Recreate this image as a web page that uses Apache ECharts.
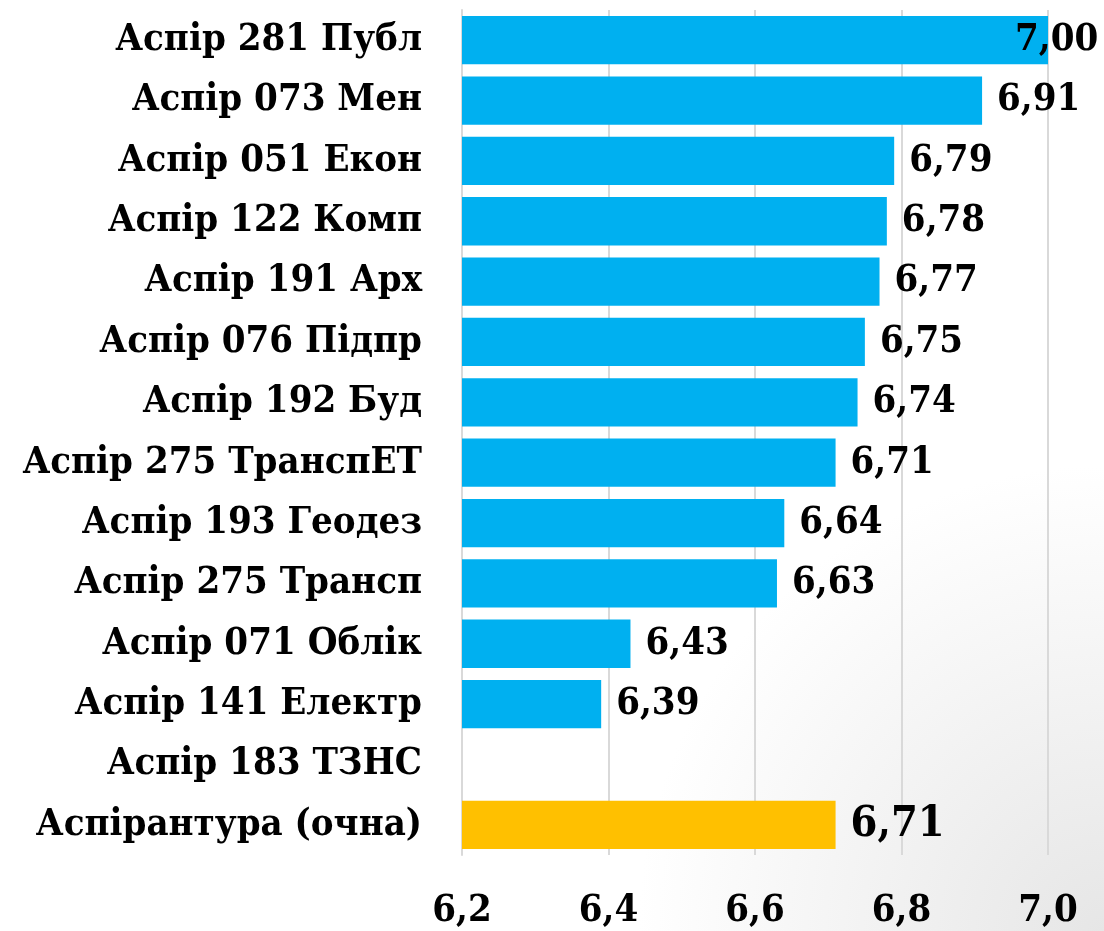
<!DOCTYPE html>
<html>
<head>
<meta charset="utf-8">
<script src="https://cdn.jsdelivr.net/npm/echarts@6/dist/echarts.min.js"></script>
<style>
  html, body { margin: 0; padding: 0; }
  #chart { width: 1104px; height: 931px; }
</style>
</head>
<body>
<div id="chart"></div>
<script>
const categories = [
  'Аспір 281 Публ', 'Аспір 073 Мен', 'Аспір 051 Екон', 'Аспір 122 Комп',
  'Аспір 191 Арх', 'Аспір 076 Підпр', 'Аспір 192 Буд', 'Аспір 275 ТранспЕТ',
  'Аспір 193 Геодез', 'Аспір 275 Трансп', 'Аспір 071 Облік', 'Аспір 141 Електр',
  'Аспір 183 ТЗНС', 'Аспірантура (очна)'
];
const values = [7.00, 6.91, 6.79, 6.78, 6.77, 6.75, 6.74, 6.71, 6.64, 6.63, 6.43, 6.39, null, 6.71];
const totalCategory = 'Аспірантура (очна)';
const xTicks = [6.2, 6.4, 6.6, 6.8, 7.0];

const FONT = '"DejaVu Serif Condensed", "DejaVu Serif", serif';
const comma = v => v.toFixed(2).replace('.', ',');

// дані серії: підсумковий рядок жовтий, значення на межі осі зсуваємо всередину
const seriesData = values.map((v, i) => {
  const item = { value: v };
  if (categories[i] === totalCategory) {
    item.itemStyle = { color: '#FFC000' };
    item.label = { fontSize: 43 };
  }
  if (v !== null && v >= xTicks[xTicks.length - 1]) {
    item.label = { offset: [-48, 0] };
  }
  return item;
});

const chart = echarts.init(document.getElementById('chart'));
chart.setOption({
  backgroundColor: {
    type: 'radial', x: 1, y: 1, r: 0.5,
    colorStops: [
      { offset: 0, color: '#e6e6e6' },
      { offset: 1, color: '#ffffff' }
    ]
  },
  animation: false,
  grid: { left: 462, right: 56, top: 10, bottom: 76 },
  xAxis: {
    type: 'value',
    min: xTicks[0],
    max: xTicks[xTicks.length - 1],
    interval: 0.2,
    axisLine: { show: false },
    axisTick: { show: false },
    splitLine: { lineStyle: { color: '#d9d9d9', width: 2 } },
    axisLabel: {
      margin: 37,
      fontFamily: FONT,
      fontWeight: 'bold',
      fontSize: 38,
      color: '#000',
      formatter: v => v.toFixed(1).replace('.', ',')
    }
  },
  yAxis: {
    type: 'category',
    inverse: true,
    data: categories,
    axisLine: { lineStyle: { color: '#d9d9d9', width: 2 } },
    axisTick: { length: 7, lineStyle: { color: '#d9d9d9', width: 2 } },
    axisLabel: {
      margin: 40,
      fontFamily: FONT,
      fontWeight: 'bold',
      fontSize: 38,
      color: '#000'
    }
  },
  series: [{
    type: 'bar',
    data: seriesData,
    barCategoryGap: '20%',
    itemStyle: { color: '#00B0F0' },
    label: {
      show: true,
      position: 'right',
      distance: 15,
      fontFamily: FONT,
      fontWeight: 'bold',
      fontSize: 38,
      color: '#000',
      formatter: p => comma(p.value)
    }
  }]
});
</script>
</body>
</html>
